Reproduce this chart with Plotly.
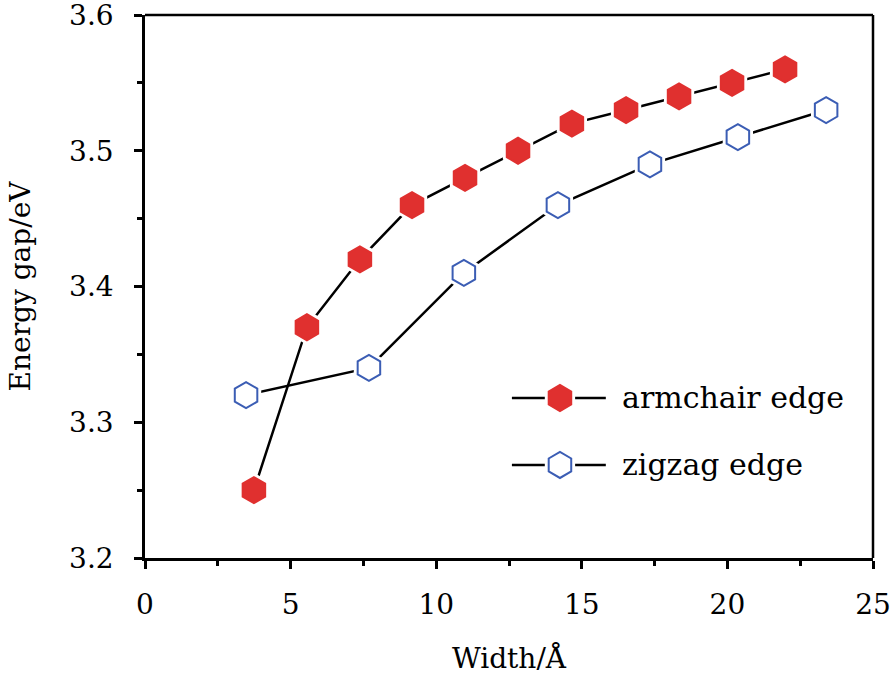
import plotly.graph_objects as go

arm_x = [3.74, 5.56, 7.38, 9.17, 10.99, 12.81, 14.66, 16.52, 18.34, 20.16, 21.98]
arm_y = [3.25, 3.37, 3.42, 3.46, 3.48, 3.50, 3.52, 3.53, 3.54, 3.55, 3.56]
zig_x = [3.47, 7.69, 10.95, 14.18, 17.34, 20.36, 23.39]
zig_y = [3.32, 3.34, 3.41, 3.46, 3.49, 3.51, 3.53]
x_ticks = [0, 5, 10, 15, 20, 25]
y_ticks = [3.2, 3.3, 3.4, 3.5, 3.6]
y_tick_text = ["3.2", "3.3", "3.4", "3.5", "3.6"]

RED = "#E0302F"
BLUE = "#3B5DB4"
FONT = "DejaVu Serif"
FS = 28
MS = 26

fig = go.Figure()

def add_series(x, y, fill, edge, name):
    fig.add_trace(go.Scatter(x=x, y=y, mode="lines", line=dict(color="black", width=2.5),
                             showlegend=False, hoverinfo="skip"))
    fig.add_trace(go.Scatter(x=x, y=y, mode="markers",
                             marker=dict(symbol="hexagon", size=MS + 9, color="white",
                                         line=dict(width=0)),
                             showlegend=False, hoverinfo="skip"))
    fig.add_trace(go.Scatter(x=x, y=y, mode="markers", name=name,
                             marker=dict(symbol="hexagon", size=MS, color=fill,
                                         line=dict(color=edge, width=2)),
                             showlegend=False))

add_series(zig_x, zig_y, "white", BLUE, "zigzag edge")
add_series(arm_x, arm_y, RED, RED, "armchair edge")

# manual legend on overlay axis (0..1 paper-like)
leg_rows = [("armchair edge", RED, RED, 0.2947), ("zigzag edge", "white", BLUE, 0.1713)]
for label, fill, edge, yy in leg_rows:
    fig.add_trace(go.Scatter(x=[0.504, 0.633], y=[yy, yy], mode="lines", xaxis="x2", yaxis="y2",
                             line=dict(color="black", width=2.5), showlegend=False, hoverinfo="skip"))
    fig.add_trace(go.Scatter(x=[0.570], y=[yy], mode="markers", xaxis="x2", yaxis="y2",
                             marker=dict(symbol="hexagon", size=MS + 9, color="white", line=dict(width=0)),
                             showlegend=False, hoverinfo="skip"))
    fig.add_trace(go.Scatter(x=[0.570], y=[yy], mode="markers", xaxis="x2", yaxis="y2",
                             marker=dict(symbol="hexagon", size=MS, color=fill, line=dict(color=edge, width=2)),
                             showlegend=False, hoverinfo="skip"))
    fig.add_annotation(x=0.652, y=yy, xref="paper", yref="paper", text=label, showarrow=False,
                       xanchor="left", yanchor="middle", font=dict(family=FONT, size=30, color="black"))

axis_common = dict(showline=True, linecolor="black", linewidth=2.5, mirror=False,
                   ticks="outside", ticklen=8, tickwidth=2.5, tickcolor="black",
                   showgrid=False, zeroline=False, automargin=False,
                   ticklabeloverflow="allow",
                   tickfont=dict(family=FONT, size=FS, color="black"))

fig.update_layout(
    width=893, height=682,
    margin=dict(l=145, r=20, t=15, b=124),
    paper_bgcolor="white", plot_bgcolor="white",
    xaxis=dict(range=[0, 25], tickvals=x_ticks, ticklabelstandoff=12, **axis_common,
               minor=dict(ticks="outside", ticklen=5, tickwidth=2.5, tickcolor="black", dtick=2.5),
               title=dict(text="Width/Å", font=dict(family=FONT, size=FS, color="black"), standoff=29)),
    yaxis=dict(range=[3.2, 3.6], tickvals=y_ticks, ticktext=y_tick_text, ticklabelstandoff=15, **axis_common,
               minor=dict(ticks="outside", ticklen=5, tickwidth=2.5, tickcolor="black", dtick=0.05),
               title=dict(text="Energy gap/eV", font=dict(family=FONT, size=FS, color="black"), standoff=31)),
    xaxis2=dict(range=[0, 1], overlaying="x", visible=False, fixedrange=True),
    yaxis2=dict(range=[0, 1], overlaying="y", visible=False, fixedrange=True),
    showlegend=False,
)

# top and right frame lines
fig.add_shape(type="line", xref="paper", yref="paper", x0=0, x1=1, y0=1, y1=1,
              line=dict(color="black", width=2.5))
fig.add_shape(type="line", xref="paper", yref="paper", x0=1, x1=1, y0=0, y1=1,
              line=dict(color="black", width=2.5))

fig.write_html("out.html", config={"displayModeBar": False},
               post_script="document.body.style.margin='0';")
